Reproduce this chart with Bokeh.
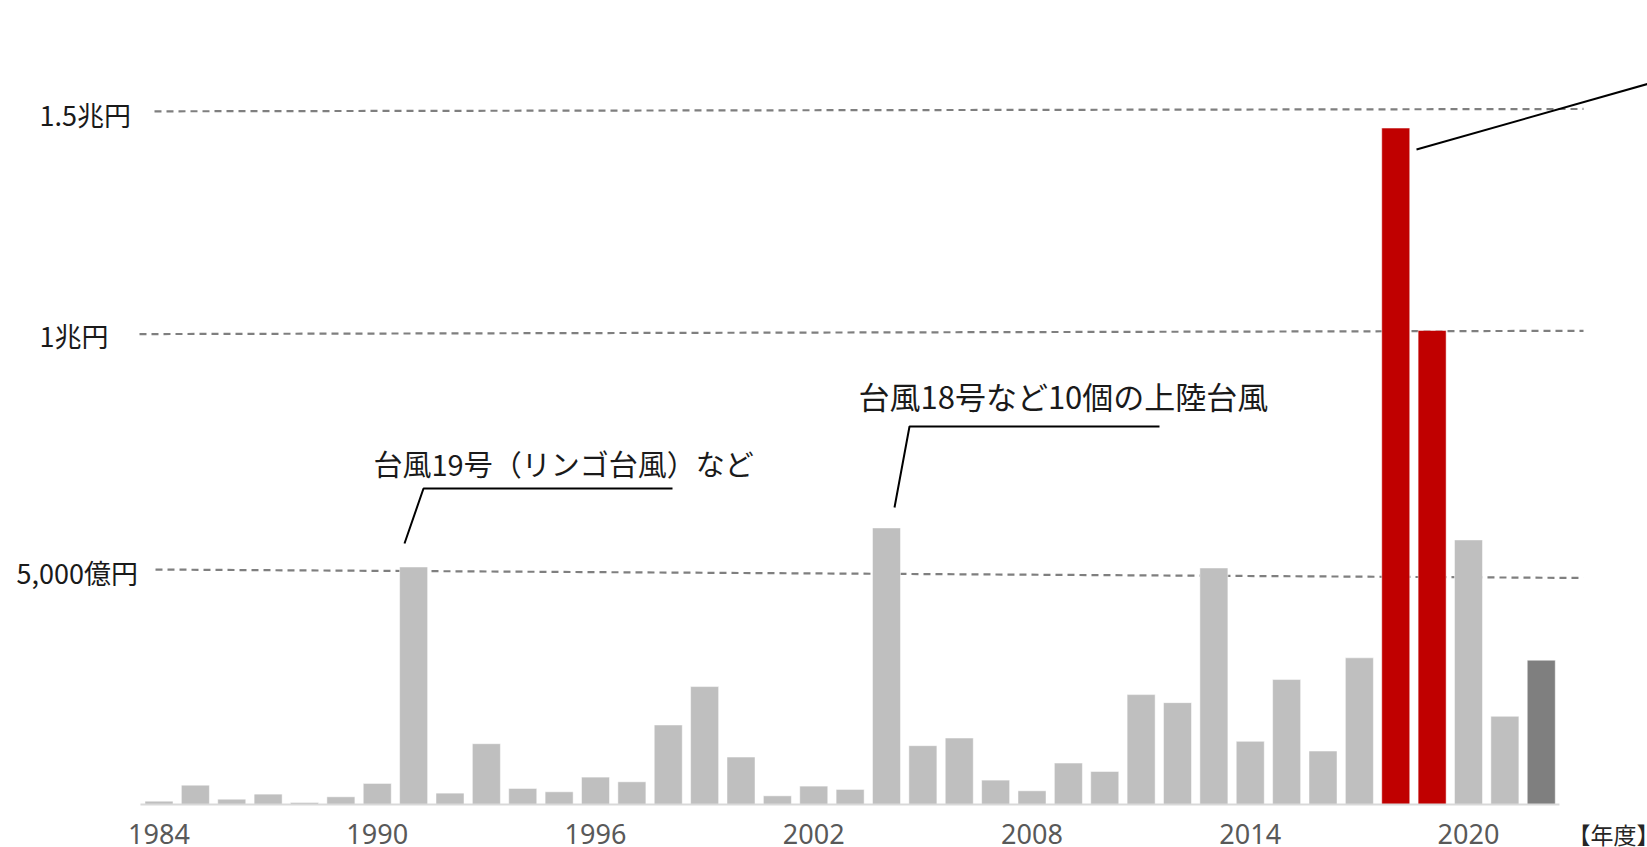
from bokeh.plotting import figure
from bokeh.models import Range1d, ColumnDataSource
from bokeh.core.properties import value
from bokeh.embed import file_html
from bokeh.resources import INLINE

# ---- data (億円) ----
years = list(range(1984, 2023))
payments = [71, 413, 114, 221, 43, 164, 449, 5064, 242, 1296,
            342, 271, 584, 484, 1695, 2514, 1011, 185, 392, 321,
            5897, 1254, 1417, 520, 292, 883, 705, 2343, 2172, 5043,
            1346, 2664, 1140, 3127, 14423, 10107, 5641, 1880, 3077]
highlight_years = [2018, 2019]
latest_years = [2022]
tick_years = [1984, 1990, 1996, 2002, 2008, 2014, 2020]

ref_labels = ["5,000億円", "1兆円", "1.5兆円"]
ref_left = [5010, 10030, 14780]
ref_right = [4830, 10100, 14830]

ann_texts = ["台風19号（リンゴ台風）など", "台風18号など10個の上陸台風"]

JP = "Noto Sans CJK JP"

# ---- geometry (pixel layout of the page) ----
W, H = 1647, 847
PX_PER_YEAR = 36.375
X0 = 1984 - 158.5 / PX_PER_YEAR
PX_PER_OKU = 0.0469
BASE_Y = 804  # page y of baseline


def dx(fx):
    return X0 + fx / PX_PER_YEAR


def dy(fy):
    return (BASE_Y - fy) / PX_PER_OKU


p = figure(width=W, height=H, output_backend="svg", toolbar_location=None,
           x_range=Range1d(X0, X0 + W / PX_PER_YEAR),
           y_range=Range1d(dy(H), dy(0)),
           min_border=0, outline_line_color=None,
           x_axis_location=None, y_axis_location=None)
p.grid.visible = False
p.background_fill_color = "white"

# reference dashed lines
xl = [dx(155), dx(139), dx(154)]
p.segment(x0=xl, y0=ref_left, x1=[dx(1583)] * 3, y1=ref_right,
          line_color="#7f7f7f", line_width=2.2, line_dash="7 5")

# bars
colors = []
for y in years:
    if y in highlight_years:
        colors.append("#c00000")
    elif y in latest_years:
        colors.append("#7f7f7f")
    else:
        colors.append("#bfbfbf")
src = ColumnDataSource(dict(x=years, top=payments, color=colors))
p.vbar(x="x", top="top", width=0.77, bottom=0, color="color", source=src,
       line_color="white", line_width=0.5)

# baseline
p.segment(x0=[years[0] - 0.5 - 0.01], y0=[0], x1=[years[-1] + 0.5], y1=[0],
          line_color="#d9d9d9", line_width=2)

# tick labels
p.text(x=tick_years, y=[0] * len(tick_years), text=[str(t) for t in tick_years],
       text_font=value("Noto Sans"), text_font_size="27px", text_color="#595959",
       text_align="center", text_baseline="middle", y_offset=29)
p.text(x=[dx(1567)], y=[0], text=["【年度】"], text_font=value(JP),
       text_font_size="23px", text_color="#262626", text_align="left",
       text_baseline="middle", y_offset=29)

# reference labels
p.text(x=[dx(16), dx(39), dx(39)], y=[dy(572), dy(335), dy(114)], text=ref_labels,
       text_font=value(JP), text_font_size="27px", text_color="#1a1a1a",
       text_align="left", text_baseline="middle")

# annotations
p.text(x=[dx(373)], y=[dy(462)], text=[ann_texts[0]],
       text_font=value(JP), text_font_size="29px", text_color="#1a1a1a",
       text_align="left", text_baseline="middle")
p.text(x=[dx(858)], y=[dy(395)], text=[ann_texts[1]],
       text_font=value(JP), text_font_size="31px", text_color="#1a1a1a",
       text_align="left", text_baseline="middle")
p.multi_line(xs=[[dx(404), dx(423), dx(672)], [dx(894), dx(909), dx(1159)],
                 [dx(1416), dx(1670)]],
             ys=[[dy(543), dy(488), dy(488)], [dy(507), dy(426), dy(426)],
                 [dy(149), dy(77)]],
             line_color="black", line_width=2)

open("out.html", "w").write(file_html(p, INLINE))
